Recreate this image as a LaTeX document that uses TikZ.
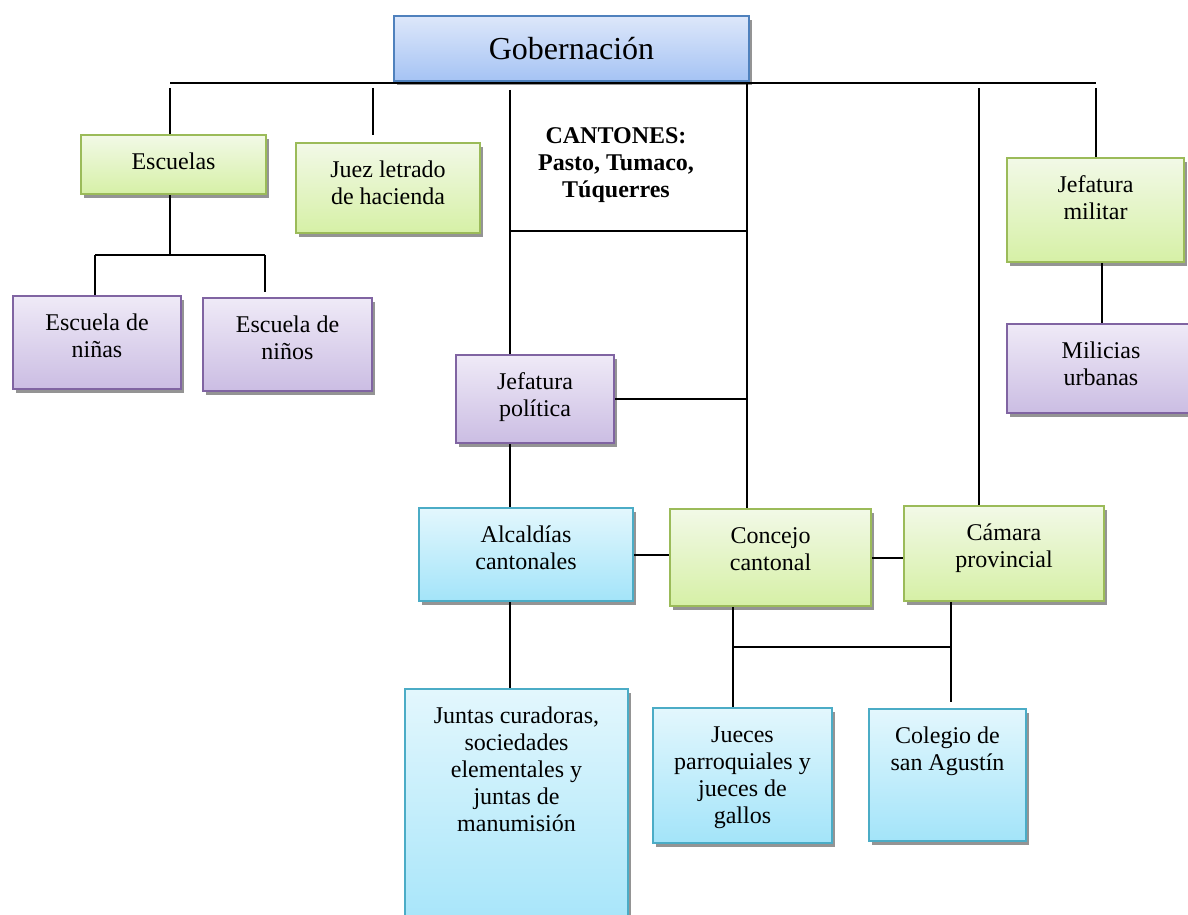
\documentclass[tikz,border=0pt]{standalone}
\usepackage{fontspec}
\setmainfont{Liberation Serif}
\usetikzlibrary{shadows}

\newcommand{\cajatexto}[3]{\parbox[c][#2][t]{#1}{\centering\rule{0pt}{17pt}#3\par}}

\begin{document}
\begin{tikzpicture}[x=0.5pt,y=-0.5pt,
	caja/.style={draw, line width=1pt, inner sep=0pt, anchor=north west,
		font=\fontsize{12}{13.5}\selectfont,
		drop shadow={shadow xshift=1.5pt, shadow yshift=-1.8pt, fill=black, opacity=.42}},
	azul/.style={caja, draw=azulborde, top color=azularriba, bottom color=azulabajo},
	verde/.style={caja, draw=verdeborde, top color=verdearriba, bottom color=verdeabajo},
	morado/.style={caja, draw=moradoborde, top color=moradoarriba, bottom color=moradoabajo},
	celeste/.style={caja, draw=celesteborde, top color=celestearriba, bottom color=celesteabajo},
	linea/.style={line width=1pt}]
	\definecolor{azulborde}{HTML}{4F81BD}
	\definecolor{azularriba}{HTML}{DDE7FA}
	\definecolor{azulabajo}{HTML}{A5C3F4}
	\definecolor{verdeborde}{HTML}{9BBB59}
	\definecolor{verdearriba}{HTML}{F2F9E7}
	\definecolor{verdeabajo}{HTML}{D6F0A6}
	\definecolor{moradoborde}{HTML}{8064A2}
	\definecolor{moradoarriba}{HTML}{EFEAF7}
	\definecolor{moradoabajo}{HTML}{CBBDE3}
	\definecolor{celesteborde}{HTML}{4BACC6}
	\definecolor{celestearriba}{HTML}{E3F7FD}
	\definecolor{celesteabajo}{HTML}{A3E4F9}
	\clip (0,0) rectangle (1188,915);

	% Gobernacion
	\node[azul, minimum width=177.5pt, minimum height=32.5pt, font=\fontsize{16}{18}\selectfont] (gob) at (393,15) {Gobernación};
	% Escuelas
	\node[verde] (escuelas) at (80,134) {\cajatexto{92.5pt}{29.5pt}{Escuelas}};
	\node[morado] (ninas) at (12,295) {\cajatexto{84pt}{46.5pt}{Escuela de\\niñas}};
	\node[morado] (ninos) at (202,297) {\cajatexto{84.5pt}{46.5pt}{Escuela de\\niños}};
	% Juez
	\node[verde] (juez) at (295,142) {\cajatexto{92pt}{45pt}{Juez letrado\\de hacienda}};
	% Cantones
	\node[font=\bfseries\fontsize{12}{13.5}\selectfont, align=center] (cantones) at (616,165) {CANTONES:\\Pasto, Tumaco,\\Túquerres};
	\node[morado] (jpol) at (455,354) {\cajatexto{79pt}{44pt}{Jefatura\\política}};
	\node[celeste] (alcal) at (418,507) {\cajatexto{107pt}{46.5pt}{Alcaldías\\cantonales}};
	\node[verde] (concejo) at (669,508) {\cajatexto{100.5pt}{48.5pt}{Concejo\\cantonal}};
	\node[verde] (camara) at (903,505) {\cajatexto{100pt}{47.5pt}{Cámara\\provincial}};
	\node[celeste] (juntas) at (404,688) {\cajatexto{111.5pt}{126pt}{Juntas curadoras,\\sociedades\\elementales y\\juntas de\\manumisión}};
	\node[celeste] (jueces) at (652,707) {\cajatexto{89.5pt}{67.5pt}{Jueces\\parroquiales y\\jueces de\\gallos}};
	\node[celeste] (colegio) at (868,708) {\cajatexto{78.5pt}{66pt}{Colegio de\\san Agustín}};
	% Militar
	\node[verde] (jmil) at (1006,157) {\cajatexto{88.5pt}{52pt}{Jefatura\\militar}};
	\node[morado] (milicias) at (1006,323) {\cajatexto{94pt}{44.5pt}{Milicias\\urbanas}};

	% linea principal
	\coordinate (bizq) at (170,83);
	\coordinate (bder) at (1096,83);
	\draw[linea] (bizq) -- (bder);
	\draw[linea] (gob.south) -- (gob.south |- bizq);
	% bajadas
	\coordinate (d1) at (170,88);
	\coordinate (d2) at (373,88);
	\coordinate (d3) at (510,90);
	\coordinate (d4) at (747,83);
	\coordinate (d5) at (979,88);
	\coordinate (d6) at (1096,88);
	\draw[linea] (d1) -- (d1 |- escuelas.north);
	\draw[linea, shorten >=3.5pt] (d2) -- (d2 |- juez.north);
	\draw[linea] (d3) -- (d3 |- jpol.north);
	\draw[linea] (d4) -- (d4 |- concejo.north);
	\draw[linea] (d5) -- (d5 |- camara.north);
	\draw[linea] (d6) -- (d6 |- jmil.north);
	% Escuelas
	\coordinate (e1) at (170,255);
	\coordinate (e2) at (95,255);
	\coordinate (e3) at (265,255);
	\draw[linea] (e1 |- escuelas.south) -- (e1);
	\draw[linea] (e2) -- (e3);
	\draw[linea] (e2) -- (e2 |- ninas.north);
	\draw[linea, shorten >=2.5pt] (e3) -- (e3 |- ninos.north);
	% Cantones
	\draw[linea] (d3 |- 0,231) -- (d4 |- 0,231);
	\draw[linea] (jpol.east) -- (jpol.east -| d4);
	\draw[linea] (d3 |- jpol.south) -- (d3 |- alcal.north);
	\draw[linea] (d3 |- alcal.south) -- (d3 |- juntas.north);
	\draw[linea] (alcal.east) -- (alcal.east -| concejo.west);
	\draw[linea] (concejo.east) -- (concejo.east -| camara.west);
	% Concejo y Camara
	\coordinate (k1) at (733,647);
	\coordinate (k2) at (951,647);
	\draw[linea] (k1) -- (k2);
	\draw[linea] (k1 |- concejo.south) -- (k1 |- jueces.north);
	\draw[linea, shorten >=3pt] (k2 |- camara.south) -- (k2 |- colegio.north);
	% Militar
	\coordinate (m1) at (1102,290);
	\draw[linea] (m1 |- jmil.south) -- (m1 |- milicias.north);
\end{tikzpicture}
\end{document}
